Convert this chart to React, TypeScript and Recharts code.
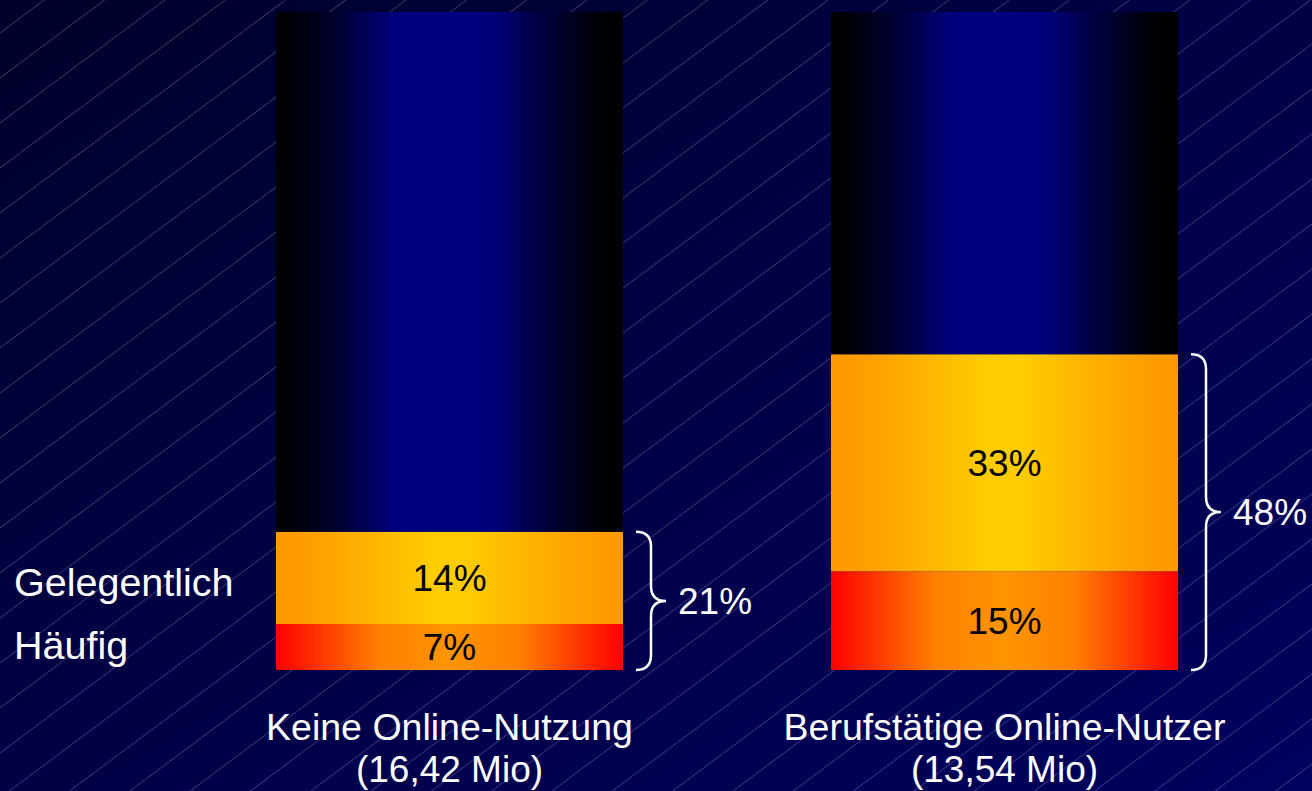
import React from 'react';
import { BarChart, Bar, XAxis, YAxis, LabelList } from 'recharts';

const categories = ['Keine Online-Nutzung', 'Berufstätige Online-Nutzer'];
const subLabels = ['(16,42 Mio)', '(13,54 Mio)'];
const haeufig = [7, 15];
const gelegentlich = [14, 33];
const rest = [79, 52];
const totals = [21, 48];
const seriesNames = { haeufig: 'Häufig', gelegentlich: 'Gelegentlich' };

const data = categories.map((c, i) => ({
  name: c,
  haeufig: haeufig[i],
  gelegentlich: gelegentlich[i],
  rest: rest[i],
}));

const FONT = '"Liberation Sans", Arial, sans-serif';

const CategoryTick = (props: any) => {
  const { x, y, payload, index } = props;
  return (
    <g>
      <text x={x} y={y + 70} textAnchor="middle" fill="#ffffff" fontSize={37.5} fontFamily={FONT}>
        {payload.value}
      </text>
      <text x={x} y={y + 112} textAnchor="middle" fill="#ffffff" fontSize={37} fontFamily={FONT}>
        {subLabels[index]}
      </text>
    </g>
  );
};

const makeInnerLabel = (values: number[], sideName: string, sideDy: number) => (props: any) => {
  const { x, y, width, height, index } = props;
  const cy = Number(y) + Number(height) / 2;
  return (
    <g>
      <text
        x={Number(x) + Number(width) / 2}
        y={cy}
        dy="0.36em"
        textAnchor="middle"
        fill="#000000"
        fontSize={37}
        fontFamily={FONT}
      >
        {values[index]}%
      </text>
      {index === 0 ? (
        <text x={14} y={cy + sideDy} dy="0.36em" textAnchor="start" fill="#ffffff" fontSize={39.5} fontFamily={FONT}>
          {sideName}
        </text>
      ) : null}
    </g>
  );
};

const BraceLabel = (props: any) => {
  const { x, y, width, height, index } = props;
  const top = Number(y);
  const h = Number(height);
  const pxPer = h / gelegentlich[index];
  const bottom = top + h + haeufig[index] * pxPer;
  const x0 = Number(x) + Number(width) + 13;
  const x1 = x0 + 15;
  const x2 = x0 + 30;
  const mid = (top + bottom) / 2;
  const r = 15;
  const d = [
    `M ${x0} ${top}`,
    `Q ${x1} ${top} ${x1} ${top + r}`,
    `L ${x1} ${mid - r}`,
    `Q ${x1} ${mid} ${x2} ${mid}`,
    `Q ${x1} ${mid} ${x1} ${mid + r}`,
    `L ${x1} ${bottom - r}`,
    `Q ${x1} ${bottom} ${x0} ${bottom}`,
  ].join(' ');
  return (
    <g>
      <path d={d} fill="none" stroke="#ffffff" strokeWidth={2.5} />
      <text x={x0 + 42} y={mid} dy="0.36em" textAnchor="start" fill="#ffffff" fontSize={37} fontFamily={FONT}>
        {totals[index]}%
      </text>
    </g>
  );
};

export default function App() {
  return (
    <div style={{ position: 'absolute', left: 0, top: 0, width: 1312, height: 791, overflow: 'hidden' }}>
      <svg width={1312} height={791} style={{ position: 'absolute', left: 0, top: 0 }}>
        <defs>
          <linearGradient id="bgGrad" x1="0" y1="0" x2="1" y2="1">
            <stop offset="0" stopColor="#00002a" />
            <stop offset="0.5" stopColor="#000046" />
            <stop offset="1" stopColor="#00005e" />
          </linearGradient>
          <pattern id="diag" patternUnits="userSpaceOnUse" x={0} y={-12} width={60.3} height={45}>
            <line x1={-3} y1={47.24} x2={63.3} y2={-2.24} stroke="#8c8cc4" strokeOpacity={0.5} strokeWidth={0.9} />
          </pattern>
        </defs>
        <rect x={0} y={0} width={1312} height={791} fill="url(#bgGrad)" />
        <rect x={0} y={0} width={1312} height={791} fill="url(#diag)" />
      </svg>
      <div style={{ position: 'absolute', left: 0, top: 0 }}>
        <BarChart
          width={1312}
          height={791}
          data={data}
          margin={{ top: 12, right: 30, bottom: 0, left: 172 }}
          barSize={347}
        >
          <defs>
            <linearGradient id="blueGrad" x1="0" y1="0" x2="1" y2="0">
              <stop offset="0" stopColor="#000000" />
              <stop offset="0.05" stopColor="#000008" />
              <stop offset="0.17" stopColor="#00002e" />
              <stop offset="0.34" stopColor="#00007c" />
              <stop offset="0.5" stopColor="#000080" />
              <stop offset="0.63" stopColor="#00007a" />
              <stop offset="0.8" stopColor="#000032" />
              <stop offset="0.93" stopColor="#000005" />
              <stop offset="1" stopColor="#000000" />
            </linearGradient>
            <linearGradient id="orangeGrad" x1="0" y1="0" x2="1" y2="0">
              <stop offset="0" stopColor="#ff9900" />
              <stop offset="0.12" stopColor="#ffa000" />
              <stop offset="0.45" stopColor="#ffcc00" />
              <stop offset="0.55" stopColor="#ffcc00" />
              <stop offset="0.88" stopColor="#ffa000" />
              <stop offset="1" stopColor="#ff9900" />
            </linearGradient>
            <linearGradient id="redGrad" x1="0" y1="0" x2="1" y2="0">
              <stop offset="0" stopColor="#ff0000" />
              <stop offset="0.12" stopColor="#ff3300" />
              <stop offset="0.3" stopColor="#ff8000" />
              <stop offset="0.5" stopColor="#ff9400" />
              <stop offset="0.7" stopColor="#ff8000" />
              <stop offset="0.88" stopColor="#ff3300" />
              <stop offset="1" stopColor="#ff0000" />
            </linearGradient>
          </defs>
          <XAxis
            dataKey="name"
            axisLine={false}
            tickLine={false}
            tickSize={0}
            tickMargin={0}
            height={121}
            interval={0}
            tick={<CategoryTick />}
          />
          <YAxis hide domain={[0, 100]} />
          <Bar dataKey="haeufig" stackId="s" fill="url(#redGrad)" isAnimationActive={false}>
            <LabelList dataKey="haeufig" content={makeInnerLabel(haeufig, seriesNames.haeufig, -2)} />
          </Bar>
          <Bar dataKey="gelegentlich" stackId="s" fill="url(#orangeGrad)" isAnimationActive={false}>
            <LabelList dataKey="gelegentlich" content={makeInnerLabel(gelegentlich, seriesNames.gelegentlich, 4)} />
            <LabelList dataKey="gelegentlich" content={BraceLabel} />
          </Bar>
          <Bar dataKey="rest" stackId="s" fill="url(#blueGrad)" isAnimationActive={false} />
        </BarChart>
      </div>
    </div>
  );
}
